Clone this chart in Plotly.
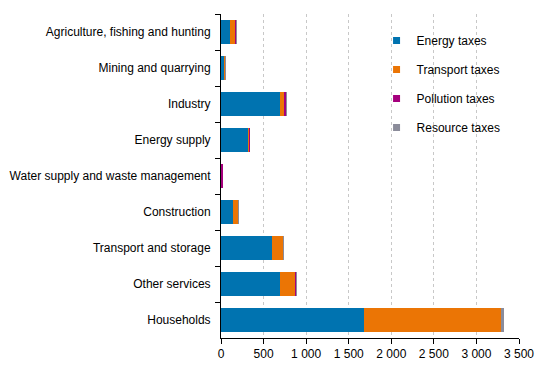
import plotly.graph_objects as go

categories = ["Agriculture, fishing and hunting", "Mining and quarrying", "Industry",
              "Energy supply", "Water supply and waste management", "Construction",
              "Transport and storage", "Other services", "Households"]
energy = [110, 38, 695, 320, 3, 145, 600, 695, 1680]
transport = [58, 11, 47, 12, 4, 58, 130, 177, 1618]
pollution = [12, 1, 23, 1, 20, 2, 8, 10, 2]
resource = [1, 1, 2, 0, 0, 1, 1, 1, 20]
x_ticks = [0, 500, 1000, 1500, 2000, 2500, 3000, 3500]
x_tick_labels = ["0", "500", "1 000", "1 500", "2 000", "2 500", "3 000", "3 500"]

series = [("Energy taxes", energy, "#0073b0"),
          ("Transport taxes", transport, "#eb7505"),
          ("Pollution taxes", pollution, "#a5007d"),
          ("Resource taxes", resource, "#8b8c9a")]

fig = go.Figure()
for i, (name, vals, col) in enumerate(series):
    fig.add_trace(go.Bar(y=categories, x=vals, name=name, orientation="h",
                         marker=dict(color=col, line=dict(width=0)),
                         showlegend=False, width=0.68))
# legend entries (small square keys like the reference)
for i, (name, vals, col) in enumerate(series):
    fig.add_trace(go.Scatter(x=[None], y=[None], mode="markers", name=name,
                             marker=dict(symbol="square", size=7, color=col),
                             legendgroup=str(i), showlegend=True))

fig.update_layout(
    barmode="stack",
    width=541, height=360,
    margin=dict(l=213, r=30, t=6, b=30),
    paper_bgcolor="white", plot_bgcolor="white",
    font=dict(family="Liberation Sans, Arial, sans-serif", size=12, color="#000000"),
    legend=dict(x=0.522, y=0.963, xanchor="left", yanchor="top",
                traceorder="grouped", tracegroupgap=10,
                bgcolor="rgba(255,255,255,0)", font=dict(size=12),
                itemwidth=30),
    showlegend=True,
)
fig.update_xaxes(range=[0, 3500], tickvals=x_ticks, ticktext=x_tick_labels,
                 showgrid=True, gridcolor="#c8c8c8", griddash="dot", gridwidth=1,
                 showline=True, linecolor="black", linewidth=1, automargin=False,
                 ticks="outside", ticklen=5, tickcolor="black", zeroline=False)
fig.update_yaxes(autorange="reversed", type="category", tickson="boundaries",
                 showline=True, linecolor="black", linewidth=1, automargin=False,
                 ticklabelstandoff=7,
                 ticks="outside", ticklen=5, tickcolor="black", showgrid=False)

fig.write_html("out.html")
